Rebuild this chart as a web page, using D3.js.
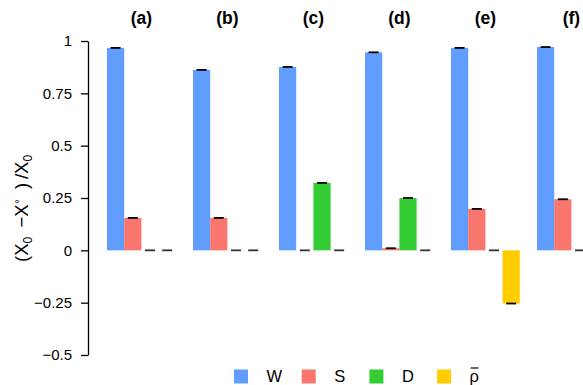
<!DOCTYPE html>
<html>
<head>
<meta charset="utf-8">
<script src="https://cdn.jsdelivr.net/npm/d3@7/dist/d3.min.js"></script>
<style>
  html, body { margin: 0; padding: 0; background: #fff; }
  svg { display: block; font-family: "Liberation Sans", Arial, sans-serif; }
</style>
</head>
<body>
<svg id="chart" width="583" height="385"></svg>
<script>
// Panels and the relative change of each quantity
const panels = ["(a)", "(b)", "(c)", "(d)", "(e)", "(f)"];
const seriesNames = ["W", "S", "D", "rho"];
const seriesLabels = ["W", "S", "D", "ρ"];
const seriesColors = ["#619CFF", "#F8766D", "#33CC33", "#FFCC00"];
const valuesW   = [0.967, 0.862, 0.876, 0.946, 0.967, 0.971];
const valuesS   = [0.155, 0.155, 0.000, 0.010, 0.198, 0.244];
const valuesD   = [0.000, 0.000, 0.322, 0.250, 0.000, 0.000];
const valuesRho = [0.000, 0.000, 0.000, 0.000, -0.254, 0.000];
const yTicks = [-0.5, -0.25, 0, 0.25, 0.5, 0.75, 1];
const yTickLabels = ["\u22120.5", "\u22120.25", "0", "0.25", "0.5", "0.75", "1"];

const seriesValues = [valuesW, valuesS, valuesD, valuesRho];
const rows = [];
panels.forEach((p, i) => {
  seriesNames.forEach((s, j) => {
    rows.push({ panel: p, series: s, idx: j, value: seriesValues[j][i] });
  });
});

const svg = d3.select("#chart");

const x0 = d3.scaleBand().domain(panels).range([98.4, 614.4])
  .paddingInner(0.2).paddingOuter(0.1);
const x1 = d3.scaleBand().domain(seriesNames).range([0, x0.bandwidth()]).padding(0);
const y = d3.scaleLinear().domain([-0.5, 1]).range([355, 41]);

// bars
const g = svg.append("g");
g.selectAll("rect.bar").data(rows).join("rect")
  .attr("class", "bar")
  .attr("x", d => x0(d.panel) + x1(d.series))
  .attr("width", x1.bandwidth())
  .attr("y", d => y(Math.max(0, d.value)))
  .attr("height", d => Math.abs(y(d.value) - y(0)))
  .attr("fill", d => seriesColors[d.idx]);

// error caps
const capW = 10;
g.selectAll("line.cap").data(rows).join("line")
  .attr("class", "cap")
  .attr("x1", d => x0(d.panel) + x1(d.series) + x1.bandwidth() / 2 - capW / 2)
  .attr("x2", d => x0(d.panel) + x1(d.series) + x1.bandwidth() / 2 + capW / 2)
  .attr("y1", d => y(d.value))
  .attr("y2", d => y(d.value))
  .attr("stroke", d => d.value === 0 ? "#333" : "#000")
  .attr("stroke-width", 1.8);

// panel titles
svg.append("g").selectAll("text").data(panels).join("text")
  .attr("x", d => x0(d) + x0.bandwidth() / 2)
  .attr("y", 24)
  .attr("text-anchor", "middle")
  .attr("font-weight", "bold")
  .attr("font-size", 17.5)
  .text(d => d);

// y axis
const yAxis = d3.axisLeft(y)
  .tickValues(yTicks)
  .tickFormat((d, i) => yTickLabels[i])
  .tickSize(7)
  .tickSizeOuter(0)
  .tickPadding(9);
const ax = svg.append("g").attr("transform", "translate(88,0)").call(yAxis);
ax.select(".domain").attr("stroke", "#000").attr("stroke-width", 1.3);
ax.selectAll(".tick line").attr("stroke", "#000").attr("stroke-width", 1.3);
ax.selectAll(".tick text").attr("font-size", 15).attr("fill", "#000")
  .attr("font-family", "Liberation Sans, Arial, sans-serif");

// y axis title: (X0 - X*) / X0
const yl = svg.append("text")
  .attr("transform", "translate(28,262) rotate(-90)")
  .attr("text-anchor", "start")
  .attr("font-size", 18.5);
yl.append("tspan").text("(X");
yl.append("tspan").attr("font-size", 12).attr("dy", 4).text("0");
yl.append("tspan").attr("dy", -4).text("\u2002\u2212X");
yl.append("tspan").attr("font-size", 10).attr("dy", -8).attr("font-family", "DejaVu Sans").text("\u2218");
yl.append("tspan").attr("dy", 8).text("\u2002)\u2009/X");
yl.append("tspan").attr("font-size", 12).attr("dy", 4).text("0");

// legend
const lg = svg.append("g").selectAll("g").data(seriesNames).join("g")
  .attr("transform", (d, i) => `translate(${234 + i * 67.7},369.5)`);
lg.append("rect").attr("width", 14).attr("height", 14)
  .attr("fill", (d, i) => seriesColors[i]);
const lt = lg.append("text").attr("x", 32.5).attr("y", 12.5).attr("font-size", 16.5)
  .text((d, i) => seriesLabels[i]);
// bar over the density symbol
lt.filter(d => d === "rho").each(function() {
  const w = this.getComputedTextLength();
  d3.select(this.parentNode).append("line")
    .attr("x1", 33.5).attr("x2", 32.5 + w - 0.5)
    .attr("y1", -1.5).attr("y2", -1.5)
    .attr("stroke", "#000").attr("stroke-width", 1.2);
});
</script>
</body>
</html>
